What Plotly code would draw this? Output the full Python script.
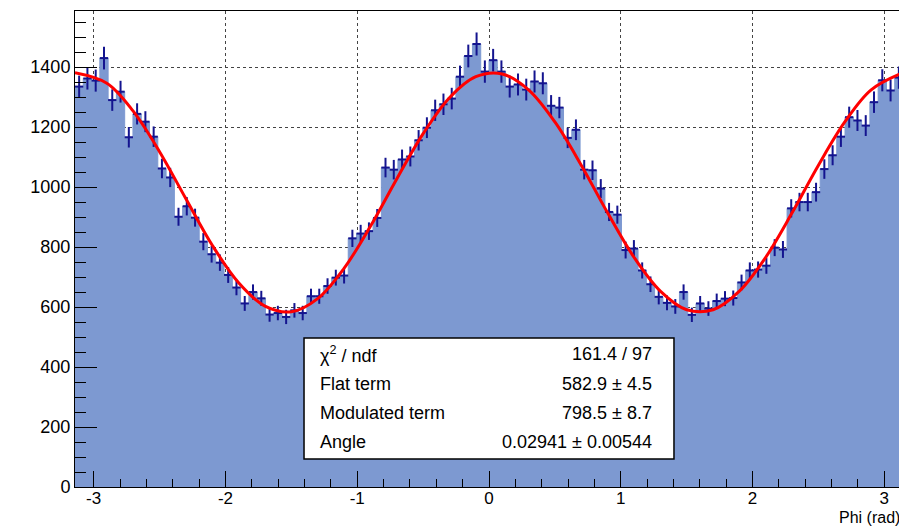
import math
import plotly.graph_objects as go

# Histogram of Phi, 100 bins over [-pi, pi]; counts
n_bins = 100
counts = [
    1335, 1362, 1355, 1430, 1290, 1318, 1166, 1244, 1218, 1168,
    1062, 1032, 901, 936, 898, 818, 776, 748, 707, 665,
    612, 650, 629, 575, 580, 567, 589, 580, 636, 636,
    670, 698, 705, 829, 845, 853, 897, 1065, 1058, 1092,
    1102, 1156, 1198, 1256, 1276, 1295, 1368, 1437, 1477, 1385,
    1423, 1385, 1335, 1342, 1325, 1352, 1346, 1271, 1265, 1164,
    1191, 1058, 1056, 995, 917, 908, 790, 795, 722, 676,
    634, 614, 602, 650, 574, 612, 595, 620, 628, 630,
    682, 722, 725, 738, 798, 792, 929, 950, 950, 983,
    1060, 1106, 1168, 1233, 1222, 1205, 1283, 1356, 1322, 1365,
]

# Red fit curve
fit_x = [-3.1416, -2.9, -2.7, -2.5, -2.3, -2.1, -1.9, -1.7, -1.5, -1.3, -1.1,
         -0.9, -0.7, -0.5, -0.3, -0.1, 0.1, 0.3, 0.5, 0.7, 0.9, 1.1, 1.3, 1.5,
         1.7, 1.9, 2.1, 2.3, 2.5, 2.7, 2.9, 3.1416]
fit_y = [1381, 1346, 1253, 1118, 961, 806, 681, 603, 584, 628, 729,
         869, 1027, 1178, 1298, 1368, 1377, 1324, 1217, 1073, 914, 766, 653, 591,
         591, 653, 766, 914, 1073, 1217, 1324, 1381]

# Axis tick labels (ROOT style, plain hyphen)
x_tickvals = [-3, -2, -1, 0, 1, 2, 3]
x_ticktext = ["-3", "-2", "-1", "0", "1", "2", "3"]

# Fit statistics box
stat_labels = ["χ<sup>2</sup> / ndf", "Flat term", "Modulated term", "Angle"]
stat_values = ["161.4 / 97", "582.9 ± 4.5", "798.5 ± 8.7", "0.02941 ± 0.00544"]

xmin, xmax = -math.pi, math.pi
bw = (xmax - xmin) / n_bins
edges = [xmin + i * bw for i in range(n_bins + 1)]
centers = [xmin + (i + 0.5) * bw for i in range(n_bins)]
errors = [math.sqrt(c) for c in counts]

fill_color = "#7D99D1"
err_color = "#14148F"
font = "Liberation Sans, Arial, sans-serif"

fig = go.Figure()

# filled step histogram
fig.add_trace(go.Scatter(
    x=edges, y=counts + [counts[-1]],
    mode="lines", line=dict(shape="hv", color=fill_color, width=1),
    fill="tozeroy", fillcolor=fill_color, hoverinfo="skip",
))

# error crosses
fig.add_trace(go.Scatter(
    x=centers, y=counts, mode="markers",
    marker=dict(size=1, color=err_color),
    error_y=dict(type="data", array=errors, color=err_color, thickness=2, width=0),
    error_x=dict(type="constant", value=bw / 2, color=err_color, thickness=2, width=0),
))

# fit curve
fig.add_trace(go.Scatter(
    x=fit_x, y=fit_y, mode="lines",
    line=dict(color="#FF0000", width=3, shape="spline", smoothing=1.0),
))

# stats box
fig.add_shape(type="rect", xref="paper", yref="paper",
              x0=0.2766, x1=0.7234, y0=0.0588, y1=0.313,
              line=dict(color="black", width=1.5), fillcolor="white", layer="above")
row_y = [0.2794, 0.2164, 0.1555, 0.0945]
for lab, val, yy in zip(stat_labels, stat_values, row_y):
    fig.add_annotation(xref="paper", yref="paper", x=0.2935, y=yy, text=lab,
                       showarrow=False, xanchor="left", yanchor="middle",
                       font=dict(family=font, size=18, color="black"))
    fig.add_annotation(xref="paper", yref="paper", x=0.6993, y=yy, text=val,
                       showarrow=False, xanchor="right", yanchor="middle",
                       font=dict(family=font, size=18, color="black"))

# axis title
fig.add_annotation(xref="paper", yref="paper", x=0.998, y=-0.084, text="Phi (rad)",
                   showarrow=False, xanchor="right", yanchor="bottom", borderpad=0,
                   font=dict(family=font, size=16, color="black"))

fig.update_xaxes(
    range=[xmin, xmax], tickmode="array", tickvals=x_tickvals, ticktext=x_ticktext,
    ticks="inside", ticklen=16, tickcolor="black", tickwidth=1,
    minor=dict(dtick=0.2, tick0=0, ticks="inside", ticklen=8, tickcolor="black"),
    showgrid=True, gridcolor="#444444", griddash="dot", gridwidth=1,
    zeroline=False, showline=True, linecolor="black", linewidth=1, mirror=True,
    tickfont=dict(family=font, size=17, color="black"), automargin=False,
    ticklabelstandoff=-4,
)
fig.update_yaxes(
    range=[0, 1587], tickmode="linear", tick0=0, dtick=200,
    ticks="inside", ticklen=22, tickcolor="black", tickwidth=1,
    minor=dict(dtick=50, tick0=0, ticks="inside", ticklen=11, tickcolor="black"),
    showgrid=True, gridcolor="#444444", griddash="dot", gridwidth=1,
    zeroline=False, showline=True, linecolor="black", linewidth=1, mirror=True,
    tickfont=dict(family=font, size=18, color="black"), automargin=False,
)

# page body keeps an 8px margin, so the figure is sized to fit the window
fig.update_layout(
    width=899, height=519,
    margin=dict(l=67, r=4, t=3, b=40),
    paper_bgcolor="white", plot_bgcolor="white",
    showlegend=False,
)

fig.write_html("out.html")
